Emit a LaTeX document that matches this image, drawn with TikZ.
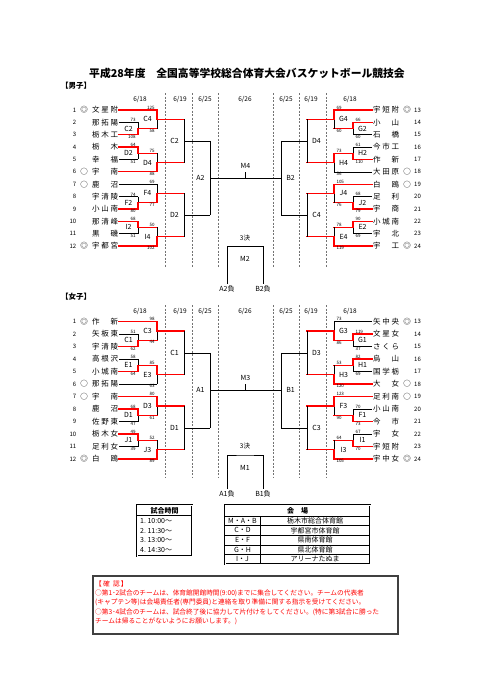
\documentclass[tikz,border=0pt]{standalone}
\usepackage{fontspec}
\setmainfont{Noto Sans CJK JP}
\usetikzlibrary{calc}

\newcommand{\fs}[1]{\fontsize{#1}{#1}\selectfont}

% one game: id, x of the bar, upper entry, lower entry,
% upper line, lower line, winner (t/b/n), label
\newcommand{\game}[8]{%
  \coordinate (#1-t) at (#3 -| #2,0);
  \coordinate (#1-b) at (#4 -| #2,0);
  \coordinate (#1) at ($(#1-t)!0.5!(#1-b)$);
  \draw[#5] (#3) -- (#1-t);
  \draw[#6] (#4) -- (#1-b);
  \draw[blk] (#1-t) -- (#1-b);
  \if t#7\draw[won] (#1-t) -- (#1);\fi
  \if b#7\draw[won] (#1-b) -- (#1);\fi
  \node[game,glbl] (#1-l) at (#1) {#8};
}
% points of a game
\newcommand{\pts}[3]{%
  \node[score,ptop] (#1-s1) at (#1-t) {#2};
  \node[score,pbot] (#1-s2) at (#1-b) {#3};
}

\tikzset{
  blk/.style={black, line width=0.5pt},
  won/.style={red, line width=1.3pt, line cap=rect},
  daysep/.style={black!55, line width=0.4pt, dash pattern=on 2pt off 1.5pt},
  team/.style={font=\fs{7.5}, inner sep=0pt, anchor=west},
  seed/.style={font=\fs{7.5}, inner sep=0pt},
  idx/.style={font=\fs{6}, inner sep=0pt},
  score/.style={font=\fs{4.5}, inner sep=0.3pt},
  game/.style={font=\fs{7}, inner sep=0pt},
  day/.style={font=\fs{6.5}, inner sep=0pt},
  frame/.style={double, line width=0.5pt, double distance=0.9pt},
  note/.style={font=\fs{6.7}, text=red, anchor=west, inner sep=0pt},
  leftside/.style={ptop/.style={anchor=south east, xshift=-2pt},
    pbot/.style={anchor=north east, xshift=-2pt}, glbl/.style={xshift=-9.5pt}},
  rightside/.style={ptop/.style={anchor=south west, xshift=2pt},
    pbot/.style={anchor=north west, xshift=2pt}, glbl/.style={xshift=9.5pt}},
}

\begin{document}
\begin{tikzpicture}[x=1pt,y=-1pt,>=latex]

% page
\useasboundingbox (0,0) rectangle (481,680);
\fill[white] (0,0) rectangle (481,680);

% title
\node[font=\fs{10.8}\bfseries] (title) at (247,73) {平成28年度\quad 全国高等学校総合体育大会バスケットボール競技会};
\node[font=\fs{7.5}\bfseries, anchor=west, inner sep=0pt] (boys) at (61,86) {【男子】};
\node[font=\fs{7.5}\bfseries, anchor=west, inner sep=0pt] (girls) at (61,297) {【女子】};

% days and separators
\foreach \y/\a/\b in {100/93/268, 311/305/478}{
  \node[day] (d1-\y) at (140,\y) {6/18};
  \node[day] (d2-\y) at (180,\y) {6/19};
  \node[day] (d3-\y) at (205,\y) {6/25};
  \node[day] (d4-\y) at (245,\y) {6/26};
  \node[day] (d5-\y) at (286,\y) {6/25};
  \node[day] (d6-\y) at (311,\y) {6/19};
  \node[day] (d7-\y) at (350,\y) {6/18};
  \foreach \x in {165,192,218,273,299,326}
    \draw[daysep] (\x,\a) -- (\x,\b);
}

% boys teams
\foreach \i/\s/\t in {1/◎/文\hfill 星\hfill 附, 2//那\hfill 拓\hfill 陽, 3//栃\hfill 木\hfill 工,
    4//栃\hfill 木, 5//幸\hfill 福, 6/○/宇\hfill 南, 7/○/鹿\hfill 沼, 8//宇\hfill 清\hfill 陵,
    9//小\hfill 山\hfill 南, 10//那\hfill 清\hfill 峰, 11//黒\hfill 磯, 12/◎/宇\hfill 都\hfill 宮}{
  \pgfmathsetmacro{\y}{110+(\i-1)*12.36}
  \coordinate (m\i) at (119,\y);
  \node[idx,anchor=east] (mn\i) at (76.5,\y) {\i};
  \node[seed] (ms\i) at (84,\y) {\s};
  \node[team] (mt\i) at (92,\y) {\makebox[26pt]{\t}};
}
\foreach \i/\s/\t in {13/◎/宇\hfill 短\hfill 附, 14//小\hfill 山, 15//石\hfill 橋, 16//今\hfill 市\hfill 工,
    17//作\hfill 新, 18/○/大\hfill 田\hfill 原, 19/○/白\hfill 鴎, 20//足\hfill 利, 21//宇\hfill 商,
    22//小\hfill 城\hfill 南, 23//宇\hfill 北, 24/◎/宇\hfill 工}{
  \pgfmathsetmacro{\y}{110+(\i-13)*12.36}
  \coordinate (m\i) at (372,\y);
  \node[team] (mt\i) at (373,\y) {\makebox[26pt]{\t}};
  \node[seed] (ms\i) at (407,\y) {\s};
  \node[idx,anchor=west] (mn\i) at (414,\y) {\i};
}

% girls teams
\foreach \i/\s/\t in {1/◎/作\hfill 新, 2//矢\hfill 板\hfill 東, 3//宇\hfill 清\hfill 陵, 4//高\hfill 根\hfill 沢,
    5//小\hfill 城\hfill 南, 6/○/那\hfill 拓\hfill 陽, 7/○/宇\hfill 南, 8//鹿\hfill 沼, 9//佐\hfill 野\hfill 東,
    10//栃\hfill 木\hfill 女, 11//足\hfill 利\hfill 女, 12/◎/白\hfill 鴎}{
  \pgfmathsetmacro{\y}{321.5+(\i-1)*12.5}
  \coordinate (w\i) at (119,\y);
  \node[idx,anchor=east] (wn\i) at (76.5,\y) {\i};
  \node[seed] (ws\i) at (84,\y) {\s};
  \node[team] (wt\i) at (92,\y) {\makebox[26pt]{\t}};
}
\foreach \i/\s/\t in {13/◎/矢\hfill 中\hfill 央, 14//文\hfill 星\hfill 女, 15//さ\hfill く\hfill ら,
    16//烏\hfill 山, 17//国\hfill 学\hfill 栃, 18/○/大\hfill 女, 19/○/足\hfill 利\hfill 南,
    20//小\hfill 山\hfill 南, 21//今\hfill 市, 22//宇\hfill 女, 23//宇\hfill 短\hfill 附, 24/◎/宇\hfill 中\hfill 女}{
  \pgfmathsetmacro{\y}{321.5+(\i-13)*12.5}
  \coordinate (w\i) at (372,\y);
  \node[team] (wt\i) at (373,\y) {\makebox[26pt]{\t}};
  \node[seed] (ws\i) at (407,\y) {\s};
  \node[idx,anchor=west] (wn\i) at (414,\y) {\i};
}

% boys bracket, left
\tikzset{leftside}
\game{aC2}{138}{m2}{m3}{blk}{won}{b}{C2}      \pts{aC2}{73}{108}
\game{aC4}{157}{m1}{aC2}{won}{won}{t}{C4}     \pts{aC4}{125}{58}
\game{aD2}{138}{m4}{m5}{won}{blk}{t}{D2}      \pts{aD2}{64}{51}
\game{aD4}{157}{aD2}{m6}{won}{won}{b}{D4}     \pts{aD4}{75}{88}
\game{aF2}{138}{m8}{m9}{blk}{won}{b}{F2}      \pts{aF2}{74}{80}
\game{aF4}{157}{m7}{aF2}{blk}{won}{b}{F4}     \pts{aF4}{69}{77}
\game{aI2}{138}{m10}{m11}{won}{blk}{t}{I2}    \pts{aI2}{68}{51}
\game{aI4}{157}{aI2}{m12}{won}{won}{b}{I4}    \pts{aI4}{50}{102}
\game{bC2}{184}{aC4}{aD4}{won}{won}{n}{C2}
\game{bD2}{184}{aF4}{aI4}{won}{won}{n}{D2}
\game{cA2}{210}{bC2}{bD2}{blk}{blk}{n}{A2}

% boys bracket, right
\tikzset{rightside}
\game{aG2}{353}{m14}{m15}{won}{blk}{t}{G2}    \pts{aG2}{66}{60}
\game{aG4}{334}{m13}{aG2}{won}{won}{t}{G4}    \pts{aG4}{69}{60}
\game{aH2}{353}{m16}{m17}{blk}{won}{b}{H2}    \pts{aH2}{61}{110}
\game{aH4}{334}{aH2}{m18}{won}{blk}{t}{H4}    \pts{aH4}{73}{56}
\game{aJ2}{353}{m20}{m21}{blk}{won}{b}{J2}    \pts{aJ2}{68}{79}
\game{aJ4}{334}{m19}{aJ2}{won}{won}{t}{J4}    \pts{aJ4}{105}{76}
\game{aE2}{353}{m22}{m23}{won}{blk}{t}{E2}    \pts{aE2}{90}{69}
\game{aE4}{334}{aE2}{m24}{won}{won}{b}{E4}    \pts{aE4}{78}{119}
\game{bD4}{307}{aG4}{aH4}{won}{won}{n}{D4}
\game{bC4}{307}{aJ4}{aE4}{won}{won}{n}{C4}
\game{cB2}{281}{bD4}{bC4}{blk}{blk}{n}{B2}

% boys final and third place
\draw[blk] (cA2) -- (cB2);
\coordinate (M4) at ($(cA2)!0.5!(cB2)$);
\draw[blk] (M4) -- ++(0,-6);
\node[game] (M4-l) at ($(M4)+(0,-12)$) {M4};
\coordinate (mA2f) at (227,284);
\coordinate (mB2f) at (263,284);
\draw[blk] (mA2f) |- (245,246.5) -| (mB2f);
\node[day] (M2t) at (245,238.5) {3決};
\node[game] (M2-l) at (245,259) {M2};
\node[game,anchor=north,yshift=-1pt] (mA2l) at (mA2f) {A2負};
\node[game,anchor=north,yshift=-1pt] (mB2l) at (mB2f) {B2負};

% girls bracket, left
\tikzset{leftside}
\game{waC1}{138}{w2}{w3}{blk}{won}{b}{C1}     \pts{waC1}{51}{62}
\game{waC3}{157}{w1}{waC1}{won}{won}{t}{C3}   \pts{waC3}{98}{44}
\game{waE1}{138}{w4}{w5}{blk}{won}{b}{E1}     \pts{waE1}{58}{64}
\game{waE3}{157}{waE1}{w6}{won}{blk}{t}{E3}   \pts{waE3}{85}{63}
\game{waD1}{138}{w8}{w9}{won}{blk}{t}{D1}     \pts{waD1}{68}{47}
\game{waD3}{157}{w7}{waD1}{won}{won}{t}{D3}   \pts{waD3}{80}{61}
\game{waJ1}{138}{w10}{w11}{won}{blk}{t}{J1}   \pts{waJ1}{49}{39}
\game{waJ3}{157}{waJ1}{w12}{won}{won}{b}{J3}  \pts{waJ3}{52}{89}
\game{wbC1}{184}{waC3}{waE3}{won}{won}{n}{C1}
\game{wbD1}{184}{waD3}{waJ3}{won}{won}{n}{D1}
\game{wcA1}{210}{wbC1}{wbD1}{blk}{blk}{n}{A1}

% girls bracket, right
\tikzset{rightside}
\game{waG1}{353}{w14}{w15}{won}{blk}{t}{G1}   \pts{waG1}{119}{37}
\game{waG3}{334}{w13}{waG1}{blk}{won}{b}{G3}  \pts{waG3}{73}{86}
\game{waH1}{353}{w16}{w17}{won}{blk}{t}{H1}   \pts{waH1}{82}{69}
\game{waH3}{334}{waH1}{w18}{won}{won}{b}{H3}  \pts{waH3}{53}{120}
\game{waF1}{353}{w20}{w21}{blk}{won}{b}{F1}   \pts{waF1}{70}{73}
\game{waF3}{334}{w19}{waF1}{won}{won}{t}{F3}  \pts{waF3}{123}{90}
\game{waI1}{353}{w22}{w23}{blk}{won}{b}{I1}   \pts{waI1}{67}{70}
\game{waI3}{334}{waI1}{w24}{won}{won}{b}{I3}  \pts{waI3}{64}{105}
\game{wbD3}{307}{waG3}{waH3}{won}{won}{n}{D3}
\game{wbC3}{307}{waF3}{waI3}{won}{won}{n}{C3}
\game{wcB1}{281}{wbD3}{wbC3}{blk}{blk}{n}{B1}

% girls final and third place
\draw[blk] (wcA1) -- (wcB1);
\coordinate (M3) at ($(wcA1)!0.5!(wcB1)$);
\draw[blk] (M3) -- ++(0,-6);
\node[game] (M3-l) at ($(M3)+(0,-12)$) {M3};
\coordinate (wA1f) at (227,489);
\coordinate (wB1f) at (263,489);
\draw[blk] (wA1f) |- (245,455) -| (wB1f);
\node[day] (M1t) at (245,446.5) {3決};
\node[game] (M1-l) at (245,468) {M1};
\node[game,anchor=north,yshift=-1pt] (wA1l) at (wA1f) {A1負};
\node[game,anchor=north,yshift=-1pt] (wB1l) at (wB1f) {B1負};

% match times
\draw[frame] (137,505) rectangle (192,556);
\draw[blk] (137,515.5) -- (192,515.5);
\node[font=\fs{7}\bfseries, inner sep=0pt] (th) at (164.5,510.5) {試合時間};
\foreach \i/\t in {1/10:00, 2/11:30, 3/13:00, 4/14:30}
  \node[font=\fs{7}, anchor=west, inner sep=0pt] (tt\i) at (140,{521+(\i-1)*9.5}) {\i.\ \t～};

% venues
\draw[frame] (225,505) rectangle (370,564);
\draw[blk] (225,516) -- (370,516);
\draw[blk] (260,516) -- (260,564);
\node[font=\fs{7}\bfseries, inner sep=0pt] (vh) at (297.5,510.5) {会\quad 場};
\foreach \i/\a/\b in {1/M・A・B/栃木市総合体育館, 2/C・D/宇都宮市体育館, 3/E・F/県南体育館,
    4/G・H/県北体育館, 5/I・J/アリーナたぬま}{
  \node[font=\fs{7}, inner sep=0pt] (va\i) at (242.5,{516+(\i-0.5)*9.6}) {\a};
  \node[font=\fs{7}, inner sep=0pt] (vb\i) at (315,{516+(\i-0.5)*9.6}) {\b};
  \ifnum\i<5 \draw[blk] (225,{516+\i*9.6}) -- (370,{516+\i*9.6}); \fi
}

% notice
\draw[line width=1.1pt, black!75] (93,576) rectangle (398,634);
\node[note] (n0) at (95,583.5) {【\,確\enspace 認\,】};
\node[note] (n1) at (95,593) {○第1･2試合のチームは、体育館開館時間(9:00)までに集合してください。チームの代表者};
\node[note] (n2) at (95,602.5) {(キャプテン等)は会場責任者(専門委員)と連絡を取り準備に関する指示を受けてください。};
\node[note] (n3) at (95,612) {○第3･4試合のチームは、試合終了後に協力して片付けをしてください。(特に第3試合に勝った};
\node[note] (n4) at (95,621.5) {チームは帰ることがないようにお願いします。)};

\end{tikzpicture}
\end{document}
